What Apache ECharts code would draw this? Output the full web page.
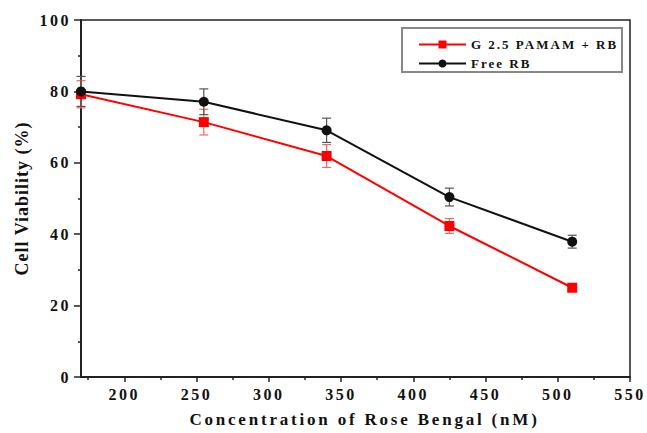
<!DOCTYPE html>
<html>
<head>
<meta charset="utf-8">
<script src="https://cdn.jsdelivr.net/npm/echarts@6/dist/echarts.min.js"></script>
<style>
html,body{margin:0;padding:0;background:#fff;}
#c{width:647px;height:433px;}
#c text[style*="16px"]{letter-spacing:2.5px;}
#c text[style*="17px"]{letter-spacing:2.8px;}
#c text[style*="13px"]{letter-spacing:2px;}
#c text[style*="18px"]{letter-spacing:1px;}
</style>
</head>
<body>
<div id="c"></div>
<script>
// Data
const concentrations = [170, 255, 340, 425, 510];
const pamamViability = [79.2, 71.4, 61.9, 42.3, 25.0];
const pamamError = [3.8, 3.6, 3.2, 2.1, 1.0];
const freeViability = [80.0, 77.1, 69.1, 50.4, 37.9];
const freeError = [4.2, 3.6, 3.4, 2.5, 1.8];
const seriesNames = ['G 2.5 PAMAM + RB', 'Free RB'];
const xMajorTicks = [200, 250, 300, 350, 400, 450, 500, 550];
const xMinorTicks = [175, 225, 275, 325, 375, 425, 475, 525];
const xTitle = 'Concentration of Rose Bengal (nM)';
const yTitle = 'Cell Viability (%)';

const FONT = 'Liberation Serif';
const chart = echarts.init(document.getElementById('c'), null, {renderer: 'svg'});

function pairs(xs, ys) { return xs.map((x, i) => [x, ys[i]]); }
function errData(xs, ys, es) { return xs.map((x, i) => [x, ys[i] - es[i], ys[i] + es[i]]); }
function errRender(color) {
  return function (params, api) {
    const x = api.value(0);
    const lo = api.coord([x, api.value(1)]);
    const hi = api.coord([x, api.value(2)]);
    const hw = 4.5;
    const st = {stroke: color, lineWidth: 1.2};
    return {type: 'group', children: [
      {type: 'line', shape: {x1: lo[0], y1: lo[1], x2: hi[0], y2: hi[1]}, style: st},
      {type: 'line', shape: {x1: lo[0] - hw, y1: lo[1], x2: lo[0] + hw, y2: lo[1]}, style: st},
      {type: 'line', shape: {x1: hi[0] - hw, y1: hi[1], x2: hi[0] + hw, y2: hi[1]}, style: st}
    ]};
  };
}

chart.setOption({
  animation: false,
  backgroundColor: '#fff',
  grid: {left: 81, right: 17, top: 20, bottom: 52, show: true, borderColor: '#222', borderWidth: 1.5, backgroundColor: 'transparent'},
  legend: {
    orient: 'vertical', left: 413, top: 33,
    itemWidth: 47, itemHeight: 10, itemGap: 6,
    data: seriesNames,
    textStyle: {fontFamily: FONT, fontWeight: 'bold', fontSize: 13, color: '#111'}
  },
  graphic: [{type: 'rect', shape: {x: 402, y: 28, width: 220, height: 44}, style: {fill: 'none', stroke: '#888', lineWidth: 2}, z: 100}],
  xAxis: [{
    type: 'value', min: 170, max: 550,
    axisLine: {show: true, lineStyle: {color: '#222', width: 2}},
    axisTick: {show: true, inside: false, length: 5, customValues: xMajorTicks, lineStyle: {color: '#222', width: 1.5}},
    axisLabel: {customValues: xMajorTicks, margin: 9, fontFamily: FONT, fontWeight: 'bold', fontSize: 16, color: '#111'},
    splitLine: {show: false},
    name: xTitle, nameLocation: 'middle', nameGap: 34,
    nameTextStyle: {fontFamily: FONT, fontWeight: 'bold', fontSize: 17, color: '#111', padding: [0, 0, 0, 18]}
  }, {
    type: 'value', min: 170, max: 550, position: 'bottom', gridIndex: 0,
    axisLine: {show: false},
    axisTick: {show: true, inside: false, length: 3, customValues: xMinorTicks, lineStyle: {color: '#222', width: 1.5}},
    axisLabel: {show: false},
    splitLine: {show: false}
  }],
  yAxis: {
    type: 'value', min: 0, max: 100, interval: 20,
    axisLine: {show: true, lineStyle: {color: '#222', width: 2}},
    axisTick: {show: true, inside: false, length: 7, lineStyle: {color: '#222', width: 1.5}},
    minorTick: {show: true, splitNumber: 2, length: 3, lineStyle: {color: '#222', width: 1.5}},
    axisLabel: {margin: 10, fontFamily: FONT, fontWeight: 'bold', fontSize: 16, color: '#111'},
    splitLine: {show: false},
    name: yTitle, nameLocation: 'middle', nameGap: 50,
    nameTextStyle: {fontFamily: FONT, fontWeight: 'bold', fontSize: 18, color: '#111'}
  },
  series: [
    {type: 'custom', name: 'errPamam', data: errData(concentrations, pamamViability, pamamError), renderItem: errRender('#ee6a6a'), clip: false, z: 1, silent: true},
    {type: 'custom', name: 'errFree', data: errData(concentrations, freeViability, freeError), renderItem: errRender('#555'), clip: false, z: 1, silent: true},
    {type: 'line', name: seriesNames[0], data: pairs(concentrations, pamamViability), symbol: 'rect', symbolSize: 10,
     itemStyle: {color: '#ff0000'}, lineStyle: {color: '#ff0000', width: 2}, clip: false, z: 3},
    {type: 'line', name: seriesNames[1], data: pairs(concentrations, freeViability), symbol: 'circle', symbolSize: 10,
     itemStyle: {color: '#111'}, lineStyle: {color: '#111', width: 2}, clip: false, z: 4}
  ]
});
</script>
</body>
</html>
